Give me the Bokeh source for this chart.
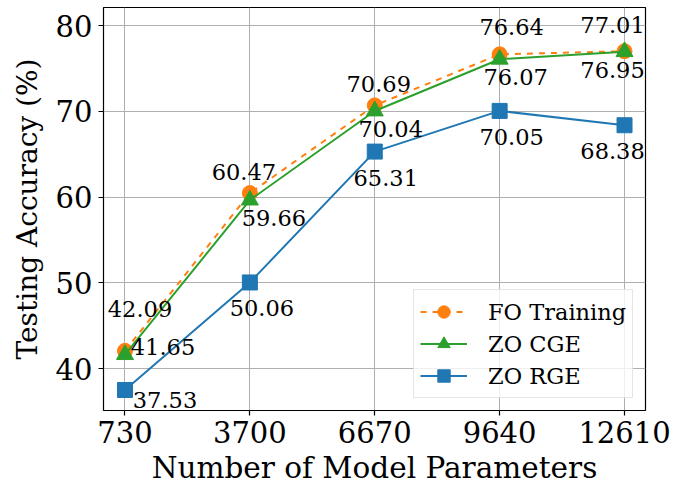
from bokeh.plotting import figure
from bokeh.models import ColumnDataSource, Range1d, FixedTicker, Legend
from bokeh.core.properties import value
from bokeh.embed import file_html
from bokeh.resources import INLINE

params = [730, 3700, 6670, 9640, 12610]
fo_training = [42.09, 60.47, 70.69, 76.64, 77.01]
zo_cge = [41.65, 59.66, 70.04, 76.07, 76.95]
zo_rge = [37.53, 50.06, 65.31, 70.05, 68.38]
y_ticks = [40, 50, 60, 70, 80]

# label offsets in screen pixels (x right, y up)
fo_dx = [15, -6, 4, 12, -12]
fo_dy = [42, 21, 21, 27, 26]
cge_dx = [38, 24, 16, 16, -12]
cge_dy = [8, -18, -18, -18, -18]
rge_dx = [40, 12, 11, 12, -12]
rge_dy = [-10, -26, -26, -26, -26]

FONT = "DejaVu Serif"
ORANGE = "#ff7f0e"
GREEN = "#2ca02c"
BLUE = "#1f77b4"

X0, X1 = 219, 13109
Y0, Y1 = 35.14, 82.1

p = figure(frame_width=542, frame_height=403, output_backend="svg", toolbar_location=None,
           x_range=Range1d(X0, X1), y_range=Range1d(Y0, Y1),
           min_border_left=103, min_border_right=34, min_border_top=7, min_border_bottom=73)
p.background_fill_color = "white"
p.border_fill_color = "white"
p.outline_line_color = "black"
p.outline_line_width = 1.2

for ax in (p.xaxis[0], p.yaxis[0]):
    ax.axis_line_color = None
    ax.major_tick_line_color = "black"
    ax.major_tick_line_width = 1.2
    ax.major_tick_out = 5
    ax.major_tick_in = 0
    ax.minor_tick_line_color = None
    ax.major_label_text_font = FONT
    ax.major_label_text_font_size = "29px"
    ax.major_label_text_color = "black"
    ax.axis_label_text_font = FONT
    ax.axis_label_text_font_style = "normal"
    ax.axis_label_text_color = "black"

p.xaxis.ticker = FixedTicker(ticks=params)
p.yaxis.ticker = FixedTicker(ticks=y_ticks)
p.xaxis.axis_label = "Number of Model Parameters"
p.yaxis.axis_label = "Testing Accuracy (%)"
p.xaxis.axis_label_text_font_size = "29.5px"
p.yaxis.axis_label_text_font_size = "28px"
p.xaxis.major_label_standoff = 5
p.xaxis.axis_label_standoff = 5
p.yaxis.major_label_standoff = 6
p.yaxis.axis_label_standoff = 9

p.xgrid.grid_line_color = "#b0b0b0"
p.ygrid.grid_line_color = "#b0b0b0"
p.xgrid.grid_line_width = 1
p.ygrid.grid_line_width = 1

series = [
    ("FO Training", fo_training, ORANGE, "dashed", "circle", 15, fo_dx, fo_dy),
    ("ZO CGE", zo_cge, GREEN, "solid", "triangle", 17, cge_dx, cge_dy),
    ("ZO RGE", zo_rge, BLUE, "solid", "square", 15, rge_dx, rge_dy),
]

legend_items = []
for name, ys, color, dash, marker, size, dx, dy in series:
    src = ColumnDataSource(dict(x=params, y=ys))
    l = p.line("x", "y", source=src, line_color=color, line_width=2, line_dash=dash)
    s = p.scatter("x", "y", source=src, marker=marker, size=size, fill_color=color, line_color=color)
    legend_items.append((name, [l, s]))

for name, ys, color, dash, marker, size, dx, dy in series:
    src = ColumnDataSource(dict(x=params, y=ys, lbl=[f"{v:.2f}" for v in ys], dx=dx, dy=[-d for d in dy]))
    p.text("x", "y", text="lbl", source=src, x_offset="dx", y_offset="dy",
           text_font=value(FONT), text_font_size="22.5px", text_color="black",
           text_align="center", text_baseline="middle")

legend = Legend(items=legend_items, location=(310, 12))
legend.label_text_font = FONT
legend.label_text_font_size = "22.5px"
legend.label_text_color = "black"
legend.glyph_width = 47
legend.glyph_height = 31
legend.label_height = 31
legend.label_standoff = 21
legend.spacing = 1
legend.padding = 6
legend.margin = 0
legend.border_line_color = "#cccccc"
legend.border_line_width = 1
legend.background_fill_alpha = 0.8
p.add_layout(legend, "center")

open("out.html", "w").write(file_html(p, INLINE))
